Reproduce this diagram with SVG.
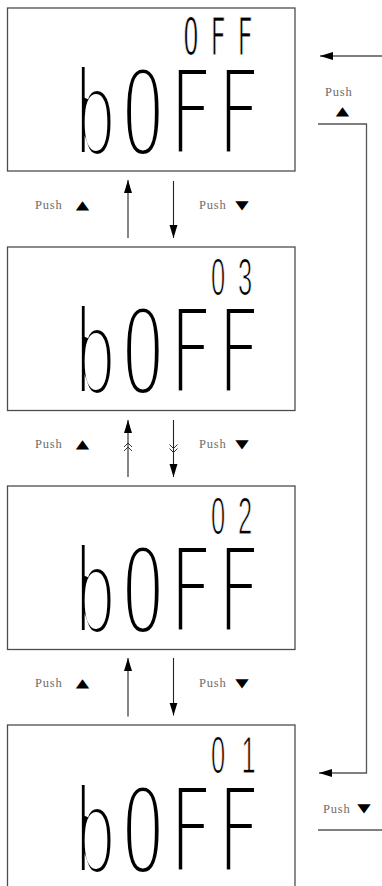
<svg xmlns="http://www.w3.org/2000/svg" width="382" height="886" viewBox="0 0 382 886">
<style>
.box{fill:#fff;stroke:#4d4d4d;stroke-width:1.3}
.big{font-family:"DejaVu Sans Mono",monospace;font-size:120px;fill:#000;stroke:#fff;stroke-width:6;text-anchor:middle}
.sm{font-size:51px;fill:#000;stroke:#fff;stroke-width:1.2;text-anchor:middle}
.smm{font-family:"DejaVu Sans Mono",monospace}
.smd{font-family:"Liberation Sans",Arial,sans-serif}
.lbl{font-family:"Liberation Serif",serif;font-size:12.5px;fill:#6d6d6d;letter-spacing:0.8px}
.tri{font-family:"DejaVu Sans",sans-serif;font-size:17.5px;fill:#000;text-anchor:middle}
.ln{stroke:#222;stroke-width:1.1;fill:none}
.rl{stroke:#555;stroke-width:1.3;fill:none}
.chev{stroke:#333;stroke-width:1;fill:none}
</style>
<defs>
<marker id="ah" markerUnits="userSpaceOnUse" markerWidth="14" markerHeight="9" refX="13" refY="4" orient="auto">
<path d="M0,0 L13,4 L0,8 Z" fill="#000"/>
</marker>
</defs>

<g id="display-off" transform="translate(0,8)">
<rect class="box" x="7.5" y="0" width="287.5" height="163"/>
<text class="sm smm" transform="translate(0,47) scale(0.5,1)" x="382 436 490">OFF</text>
<text class="big" transform="translate(0,147) scale(0.6,1)" x="158.3 238.3 317.5 397.5">bOFF</text>
</g>

<g id="display-03" transform="translate(0,247)">
<rect class="box" x="7.5" y="0" width="287.5" height="163.5"/>
<text class="sm smd" transform="translate(0,47.5) scale(0.5,1)" x="436 490">03</text>
<text class="big" transform="translate(0,147) scale(0.6,1)" x="158.3 238.3 317.5 397.5">bOFF</text>
</g>

<g id="display-02" transform="translate(0,486)">
<rect class="box" x="7.5" y="0" width="287.5" height="163.5"/>
<text class="sm smd" transform="translate(0,47.5) scale(0.5,1)" x="436 490">02</text>
<text class="big" transform="translate(0,147) scale(0.6,1)" x="158.3 238.3 317.5 397.5">bOFF</text>
</g>

<g id="display-01" transform="translate(0,725)">
<rect class="box" x="7.5" y="0" width="287.5" height="175"/>
<text class="sm smd" transform="translate(0,48) scale(0.5,1)" x="436 497">01</text>
<text class="big" transform="translate(0,148) scale(0.6,1)" x="158.3 238.3 317.5 397.5">bOFF</text>
</g>

<g id="connectors">
<line class="ln" x1="128" y1="238" x2="128" y2="180" marker-end="url(#ah)"/>
<line class="ln" x1="173.5" y1="181" x2="173.5" y2="238" marker-end="url(#ah)"/>
<line class="ln" x1="128" y1="477" x2="128" y2="420" marker-end="url(#ah)"/>
<line class="ln" x1="173.5" y1="420" x2="173.5" y2="477" marker-end="url(#ah)"/>
<path class="chev" d="M124,447 L128,443 L132,447 M124,451 L128,447 L132,451"/>
<path class="chev" d="M169.5,444.5 L173.5,448.5 L177.5,444.5 M169.5,448.5 L173.5,452.5 L177.5,448.5"/>
<line class="ln" x1="128" y1="716.5" x2="128" y2="658" marker-end="url(#ah)"/>
<line class="ln" x1="173.5" y1="658" x2="173.5" y2="715.5" marker-end="url(#ah)"/>
<line class="rl" x1="383" y1="56" x2="320" y2="56" marker-end="url(#ah)"/>
<path class="rl" d="M318,124 H366.5 V773 H319" marker-end="url(#ah)"/>
<line class="rl" x1="318" y1="830" x2="383" y2="830"/>
</g>

<g id="labels">
<text class="lbl" x="35" y="209">Push</text>
<text class="tri" transform="translate(82.5,208.5) scale(1,0.7)">▲</text>
<text class="lbl" x="199" y="209">Push</text>
<text class="tri" transform="translate(242,208.5) scale(1,0.7)">▼</text>
<text class="lbl" x="35" y="448">Push</text>
<text class="tri" transform="translate(82.5,447.5) scale(1,0.7)">▲</text>
<text class="lbl" x="199" y="448">Push</text>
<text class="tri" transform="translate(242,447.5) scale(1,0.7)">▼</text>
<text class="lbl" x="35" y="687">Push</text>
<text class="tri" transform="translate(82.5,686.5) scale(1,0.7)">▲</text>
<text class="lbl" x="199" y="687">Push</text>
<text class="tri" transform="translate(242,686.5) scale(1,0.7)">▼</text>
<text class="lbl" x="325" y="96">Push</text>
<text class="tri" transform="translate(342.5,115) scale(1,0.7)">▲</text>
<text class="lbl" x="323" y="813">Push</text>
<text class="tri" transform="translate(364,812) scale(1,0.7)">▼</text>
</g>
</svg>
